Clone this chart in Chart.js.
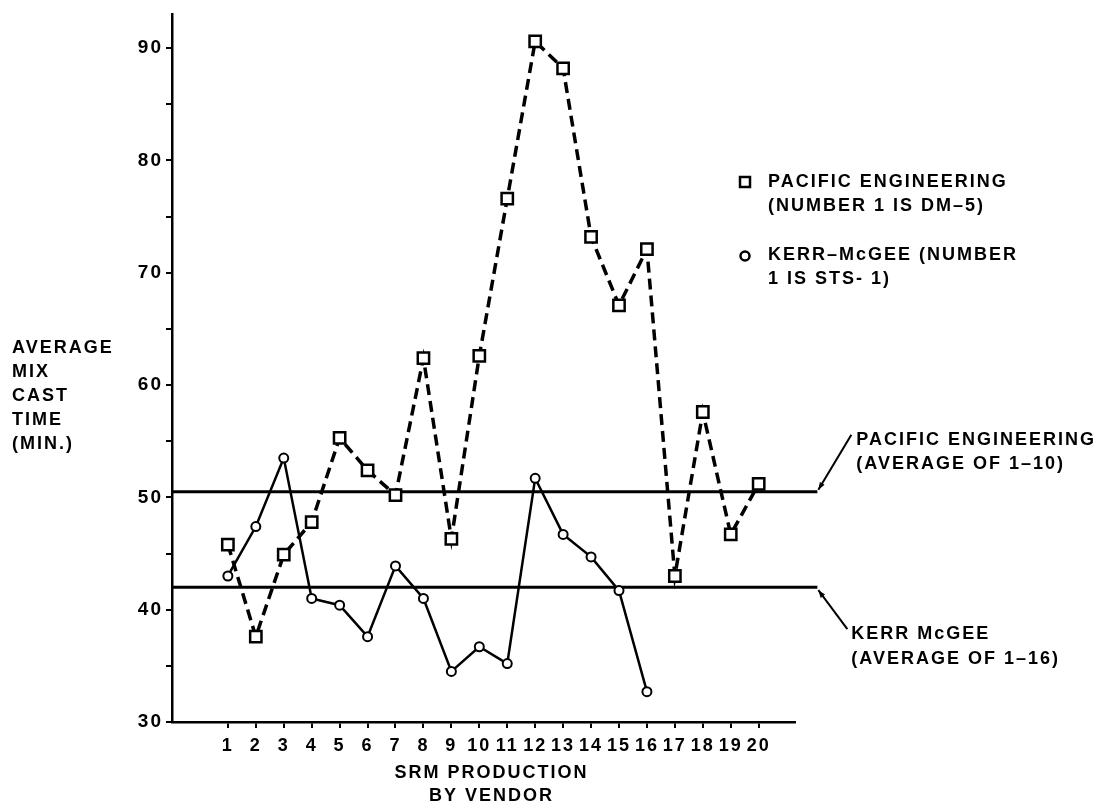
<!DOCTYPE html>
<html>
<head>
<meta charset="utf-8">
<script src="https://cdn.jsdelivr.net/npm/chart.js@4/dist/chart.umd.min.js"></script>
<style>
  html, body { margin: 0; padding: 0; background: #fff; }
  #wrap { width: 1104px; height: 802px; }
</style>
</head>
<body>
<div id="wrap"><canvas id="chart" width="1104" height="802"></canvas></div>
<script>
/* ========= Data ========= */
const vendorNumbers = [1, 2, 3, 4, 5, 6, 7, 8, 9, 10, 11, 12, 13, 14, 15, 16, 17, 18, 19, 20];
const pacificTimes = [45.8, 37.6, 44.9, 47.8, 55.3, 52.4, 50.2, 62.4, 46.3, 62.6,
                      76.6, 90.6, 88.2, 73.2, 67.1, 72.1, 43.0, 57.6, 46.7, 51.2];
const kerrTimes = [43.0, 47.4, 53.5, 41.0, 40.4, 37.6, 43.9, 41.0, 34.5, 36.7,
                   35.2, 51.7, 46.7, 44.7, 41.7, 32.7];
const pacificAverage = 50.5;   // average of 1-10
const kerrAverage = 42.0;      // average of 1-16
const yTickValues = [30, 40, 50, 60, 70, 80, 90];

/* ========= Texts ========= */
const yTitleLines = ["AVERAGE", "MIX", "CAST", "TIME", "(MIN.)"];
const xTitleLines = ["SRM PRODUCTION", "BY VENDOR"];
const legendPacific = ["PACIFIC ENGINEERING", "(NUMBER 1 IS DM\u20135)"];
const legendKerr = ["KERR\u2013McGEE (NUMBER", "1 IS STS- 1)"];
const pacificAvgLabel = ["PACIFIC ENGINEERING", "(AVERAGE OF 1\u201310)"];
const kerrAvgLabel = ["KERR McGEE", "(AVERAGE OF 1\u201316)"];

const X_MIN = -1, X_MAX = 21.3;
const AVG_LINE_END = 22.1;
const FONT = '"Liberation Sans", Arial, Helvetica, sans-serif';

function toPoints(values) {
  return values.map((v, i) => ({ x: vendorNumbers[i], y: v }));
}

/* ========= Annotation plugin ========= */
function drawLines(ctx, lines, x, y, step, align) {
  ctx.textAlign = align || "left";
  lines.forEach((t, i) => ctx.fillText(t, x, y + i * step));
}

function drawLeader(ctx, x1, y1, x2, y2) {
  // line from label (x1,y1) to average line end (x2,y2) with small arrow head
  ctx.beginPath();
  ctx.moveTo(x1, y1);
  ctx.lineTo(x2, y2);
  ctx.lineWidth = 2;
  ctx.stroke();
  const a = Math.atan2(y2 - y1, x2 - x1);
  ctx.beginPath();
  ctx.moveTo(x2, y2);
  ctx.lineTo(x2 - 8 * Math.cos(a - 0.35), y2 - 8 * Math.sin(a - 0.35));
  ctx.lineTo(x2 - 8 * Math.cos(a + 0.35), y2 - 8 * Math.sin(a + 0.35));
  ctx.closePath();
  ctx.fill();
}

const annotations = {
  id: "annotations",
  beforeDraw(chart) {
    if ("letterSpacing" in chart.ctx) chart.ctx.letterSpacing = "2px";
  },
  afterDraw(chart) {
    const ctx = chart.ctx;
    const xs = chart.scales.x, ys = chart.scales.y;
    ctx.save();
    ctx.fillStyle = "#000";
    ctx.strokeStyle = "#000";
    ctx.font = `bold 18px ${FONT}`;
    if ("letterSpacing" in ctx) ctx.letterSpacing = "2px";
    ctx.textBaseline = "middle";

    // y-axis title
    drawLines(ctx, yTitleLines, 12, 348, 24);

    // x-axis title
    const cx = (chart.chartArea.left + chart.chartArea.right) / 2;
    drawLines(ctx, xTitleLines, cx + 8, 773, 23, "center");

    // legend
    ctx.lineWidth = 2.5;
    ctx.strokeRect(740, 177, 10, 10);
    drawLines(ctx, legendPacific, 768, 182, 24);
    ctx.beginPath();
    ctx.arc(745, 256, 4.5, 0, Math.PI * 2);
    ctx.stroke();
    drawLines(ctx, legendKerr, 768, 255, 24);

    // average line labels
    const endX = xs.getPixelForValue(AVG_LINE_END);
    const peY = ys.getPixelForValue(pacificAverage);
    const kmY = ys.getPixelForValue(kerrAverage);
    drawLines(ctx, pacificAvgLabel, endX + 39, peY - 52, 24);
    drawLeader(ctx, endX + 34, peY - 57, endX + 1, peY - 2);
    drawLines(ctx, kerrAvgLabel, endX + 34, kmY + 47, 25);
    drawLeader(ctx, endX + 30, kmY + 42, endX + 1, kmY + 3);
    ctx.restore();
  }
};

/* ========= Chart ========= */
const ctx = document.getElementById("chart").getContext("2d");
new Chart(ctx, {
  type: "line",
  data: {
    datasets: [
      {
        label: "Pacific Engineering",
        data: toPoints(pacificTimes),
        borderColor: "#000",
        borderWidth: 3.5,
        borderDash: [11, 6],
        pointStyle: "rect",
        pointRadius: 8,
        pointBorderWidth: 2.5,
        pointBackgroundColor: "#fff",
        pointBorderColor: "#000",
        tension: 0
      },
      {
        label: "Kerr-McGee",
        data: toPoints(kerrTimes),
        borderColor: "#000",
        borderWidth: 2.5,
        pointStyle: "circle",
        pointRadius: 4.5,
        pointBorderWidth: 2,
        pointBackgroundColor: "#fff",
        pointBorderColor: "#000",
        tension: 0
      },
      {
        label: "Pacific Engineering average",
        data: [{ x: X_MIN, y: pacificAverage }, { x: AVG_LINE_END, y: pacificAverage }],
        borderColor: "#000",
        borderWidth: 3,
        pointRadius: 0,
        clip: false
      },
      {
        label: "Kerr McGee average",
        data: [{ x: X_MIN, y: kerrAverage }, { x: AVG_LINE_END, y: kerrAverage }],
        borderColor: "#000",
        borderWidth: 3,
        pointRadius: 0,
        clip: false
      }
    ]
  },
  options: {
    responsive: false,
    animation: false,
    layout: { padding: { top: 11, left: 0, right: 309, bottom: 0 } },
    plugins: {
      legend: { display: false },
      tooltip: { enabled: false },
      title: { display: false }
    },
    scales: {
      x: {
        type: "linear",
        min: X_MIN,
        max: X_MAX,
        afterBuildTicks: s => { s.ticks = vendorNumbers.map(v => ({ value: v })); },
        afterFit: s => { s.height = 80; },
        ticks: {
          autoSkip: false,
          maxRotation: 0,
          padding: 7,
          color: "#000",
          font: { family: FONT, size: 18, weight: "bold" },
          callback: v => v
        },
        grid: { drawOnChartArea: false, color: "#000", lineWidth: 2, tickLength: 6 },
        border: { color: "#000", width: 2.5 }
      },
      y: {
        min: 30,
        max: 93,
        afterFit: s => { s.width = 172; },
        ticks: {
          stepSize: 5,
          includeBounds: false,
          padding: 3,
          color: "#000",
          font: { family: FONT, size: 19, weight: "bold" },
          callback: v => (yTickValues.includes(v) ? v : "")
        },
        grid: { drawOnChartArea: false, color: "#000", lineWidth: 2, tickLength: 6 },
        border: { color: "#000", width: 2.5 }
      }
    }
  },
  plugins: [annotations]
});
</script>
</body>
</html>
